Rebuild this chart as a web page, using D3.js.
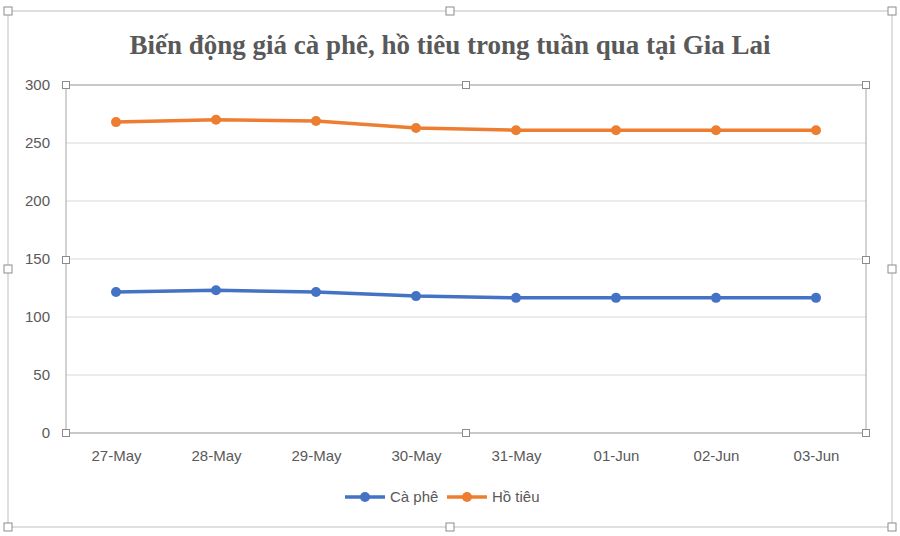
<!DOCTYPE html>
<html><head><meta charset="utf-8">
<script src="https://cdn.jsdelivr.net/npm/d3@7"></script>
<style>body{margin:0;background:#fff}</style></head>
<body><svg id="c" width="900" height="536"></svg>
<script>
const categories=["27-May","28-May","29-May","30-May","31-May","01-Jun","02-Jun","03-Jun"];
const caPhe=[121.5,123,121.5,118,116.5,116.5,116.5,116.5];
const hoTieu=[268,270,269,263,261,261,261,261];
const yTicks=[0,50,100,150,200,250,300];
const seriesNames=["Cà phê","Hồ tiêu"];
const colors=["#4472C4","#ED7D31"];

const svg=d3.select("#c");
const L=66,R=866,T=85,B=433;
svg.append("rect").attr("x",8).attr("y",11).attr("width",884).attr("height",516).attr("fill","none").attr("stroke","#bfbfbf");
const handle=(x,y,s)=>svg.append("rect").attr("x",x-s/2).attr("y",y-s/2).attr("width",s).attr("height",s).attr("fill","#fff").attr("stroke","#8c8c8c");
[[8,11],[450,11],[892,11],[8,269],[892,269],[8,527],[450,527],[892,527]].forEach(p=>handle(p[0],p[1],8));
svg.append("text").attr("x",450).attr("y",54).attr("text-anchor","middle")
 .attr("font-family","Liberation Serif, Times New Roman, serif").attr("font-weight","bold").attr("font-size",27).attr("fill","#595959")
 .text("Biến động giá cà phê, hồ tiêu trong tuần qua tại Gia Lai");
const x=d3.scalePoint().domain(categories).range([L,R]).padding(0.5);
const y=d3.scaleLinear().domain([0,300]).range([B,T]);
const g=svg.append("g");
g.selectAll(".grid").data(yTicks).join("line").attr("x1",L).attr("x2",R).attr("y1",d=>y(d)).attr("y2",d=>y(d)).attr("stroke","#d9d9d9");
const ya=svg.append("g").attr("transform",`translate(${L},0)`).call(d3.axisLeft(y).tickValues(yTicks).tickSize(0).tickPadding(16));
ya.select(".domain").remove();
ya.selectAll("text").attr("font-family","Liberation Sans, Arial, sans-serif").attr("font-size",15).attr("fill","#595959");
const xa=svg.append("g").attr("transform",`translate(0,${B})`).call(d3.axisBottom(x).tickSize(0).tickPadding(17));
xa.select(".domain").remove();
xa.selectAll("text").attr("font-family","Liberation Sans, Arial, sans-serif").attr("font-size",15).attr("fill","#595959");
svg.append("rect").attr("x",L).attr("y",T).attr("width",R-L).attr("height",B-T).attr("fill","none").attr("stroke","#a6a6a6");
[[L,T],[466,T],[R,T],[L,260],[R,260],[L,B],[466,B],[R,B]].forEach(p=>handle(p[0],p[1],7));
const line=d3.line().x((d,i)=>x(categories[i])).y(d=>y(d));
[caPhe,hoTieu].forEach((s,k)=>{
 svg.append("path").datum(s).attr("d",line).attr("fill","none").attr("stroke",colors[k]).attr("stroke-width",3.5).attr("stroke-linejoin","round");
 svg.selectAll(".p"+k).data(s).join("circle").attr("cx",(d,i)=>x(categories[i])).attr("cy",d=>y(d)).attr("r",5).attr("fill",colors[k]);
});
const lg=[[345,"Cà phê"],[447,"Hồ tiêu"]];
lg.forEach((l,k)=>{
 svg.append("line").attr("x1",l[0]).attr("x2",l[0]+40).attr("y1",497).attr("y2",497).attr("stroke",colors[k]).attr("stroke-width",3.5);
 svg.append("circle").attr("cx",l[0]+20).attr("cy",497).attr("r",5).attr("fill",colors[k]);
 svg.append("text").attr("x",l[0]+45).attr("y",502).attr("font-family","Liberation Sans, Arial, sans-serif").attr("font-size",15).attr("fill","#595959").text(seriesNames[k]);
});
</script></body></html>
